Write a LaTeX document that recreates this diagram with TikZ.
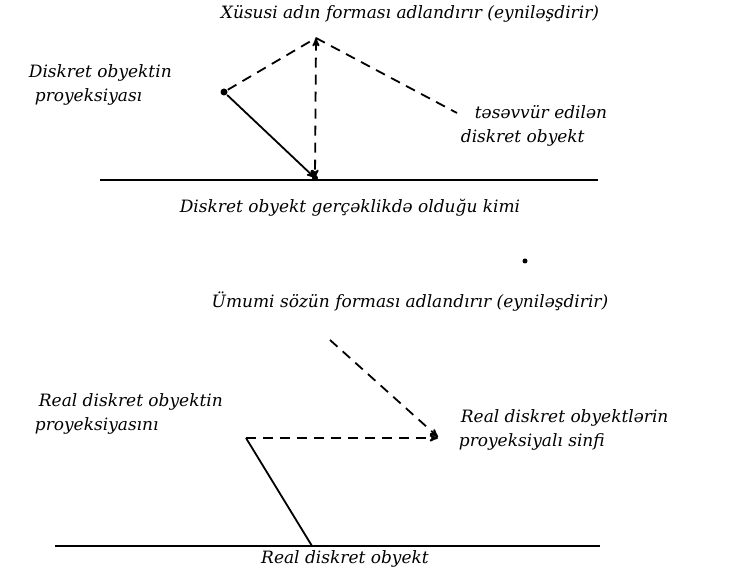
\documentclass[tikz,border=0pt]{standalone}
\usepackage{fontspec}
\setmainfont{DejaVu Serif}
\usepackage{tikz}
\usetikzlibrary{arrows, shapes, positioning}
\tikzstyle{label} = [font=\fontsize{17}{24}\selectfont\itshape, inner sep=0]
\tikzstyle{ref} = [dash pattern=on 10pt off 7pt]
\tikzstyle{ground} = [line width=2.2pt]
\tikzstyle{point} = [circle, fill=black, inner sep=0, minimum size=7pt]

\begin{document}
\begin{tikzpicture}[x=1pt, y=-1pt, line width=1.8pt, >=stealth']
				\useasboundingbox (0, 0) rectangle (740, 569);

				% individual name
				\node (XName) [label] at (410, 14) {Xüsusi adın forması adlandırır (eyniləşdirir)};
				\coordinate (Apex) at (316, 38);

				\node (ProjDot) [point] at (224, 92) {};
				\node (ProjText) [label, anchor=west, align=left] at (28, 85) {Diskret obyektin\\\hspace{6pt}proyeksiyası};
				\draw [ref] (ProjDot) -- (Apex);

				\coordinate (ImagEnd) at (457, 113);
				\node (ImagText) [label, anchor=west, align=left] at (460, 126) {\hspace{14pt}təsəvvür edilən\\diskret obyekt};
				\draw [ref] (Apex) -- (ImagEnd);

				\draw [ground] (100, 180) -- (598, 180);
				\coordinate (Foot) at (315, 178);
				\node (FootDot) [point, minimum size=6pt] at (Foot) {};
				\draw [ref, <->] (Apex) -- (Foot);
				\draw [->] (ProjDot) -- (Foot);
				\node (RealText) [label] at (350, 208) {Diskret obyekt gerçəklikdə olduğu kimi};

				\node (Speck) [point, minimum size=5pt] at (525, 261) {};

				% common word
				\node (UName) [label] at (410, 302) {Ümumi sözün forması adlandırır (eyniləşdirir)};
				\coordinate (UStart) at (330, 340);
				\coordinate (Class) at (438, 437);
				\draw [ref, ->] (UStart) -- (Class);

				\coordinate (RealProj) at (246, 438);
				\node (RealProjText) [label, anchor=west, align=left] at (34, 414) {\hspace{4pt}Real diskret obyektin\\proyeksiyasını};
				\draw [ref, ->] (RealProj) -- (Class |- RealProj);
				\node (ClassText) [label, anchor=west, align=left] at (458, 430) {\hspace{2pt}Real diskret obyektlərin\\proyeksiyalı sinfi};

				\draw [ground] (55, 546) -- (600, 546);
				\coordinate (RealFoot) at (312, 546);
				\draw (RealProj) -- (RealFoot);
				\node (RealObj) [label] at (345, 559) {Real diskret obyekt};
\end{tikzpicture}
\end{document}
